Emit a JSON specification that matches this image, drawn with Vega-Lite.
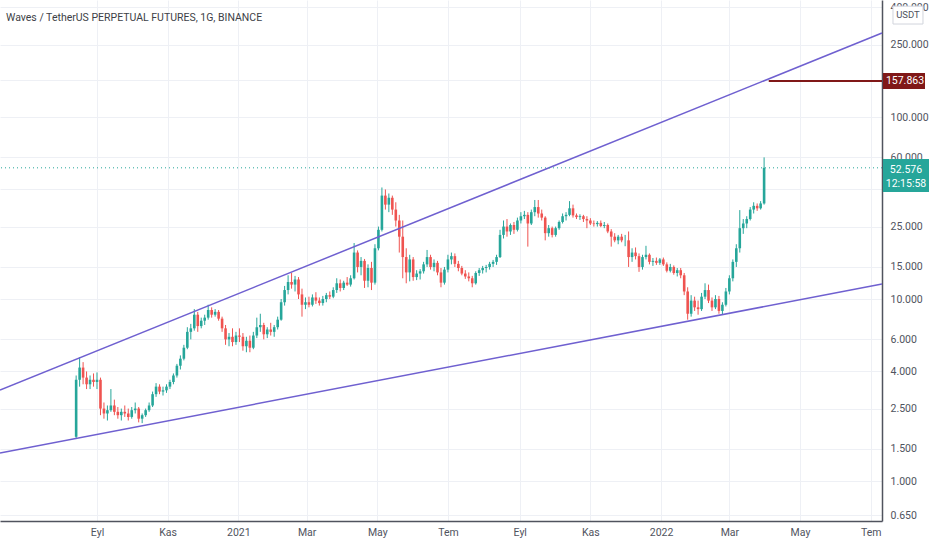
{
"$schema": "https://vega.github.io/schema/vega-lite/v6.json",
"width": 882,
"height": 521,
"autosize": {"type": "none"},
"padding": {"left": 0, "top": 0, "right": 50, "bottom": 29},
"background": "#ffffff",
"view": {"stroke": null},
"config": {"font": "Roboto", "text": {"font": "Roboto"}},
"title": {"text": "Waves / TetherUS PERPETUAL FUTURES, 1G, BINANCE", "anchor": "start", "frame": "group", "orient": "top", "offset": -23, "dx": 6, "fontSize": 10.5, "fontWeight": "normal", "color": "#3d3f47", "font": "Roboto"},
"datasets": {
"candles": [
{"d":"2020-08-14","o":1.75,"h":3.8,"l":1.7,"c":3.6},
{"d":"2020-08-17","o":3.6,"h":4.8,"l":3.3,"c":4.2},
{"d":"2020-08-20","o":4.2,"h":4.5,"l":3.4,"c":3.7},
{"d":"2020-08-23","o":3.7,"h":4.0,"l":3.2,"c":3.4},
{"d":"2020-08-26","o":3.4,"h":3.8,"l":3.2,"c":3.6},
{"d":"2020-08-29","o":3.6,"h":3.9,"l":3.3,"c":3.5},
{"d":"2020-09-01","o":3.5,"h":3.95,"l":3.2,"c":3.6},
{"d":"2020-09-04","o":3.6,"h":3.7,"l":2.3,"c":2.5},
{"d":"2020-09-07","o":2.5,"h":2.7,"l":2.2,"c":2.35},
{"d":"2020-09-10","o":2.35,"h":2.6,"l":2.15,"c":2.45},
{"d":"2020-09-13","o":2.45,"h":3.2,"l":2.4,"c":2.6},
{"d":"2020-09-16","o":2.6,"h":2.8,"l":2.3,"c":2.4},
{"d":"2020-09-19","o":2.4,"h":2.55,"l":2.2,"c":2.3},
{"d":"2020-09-22","o":2.3,"h":2.5,"l":2.15,"c":2.4},
{"d":"2020-09-25","o":2.4,"h":2.6,"l":2.25,"c":2.35},
{"d":"2020-09-28","o":2.35,"h":2.5,"l":2.15,"c":2.25},
{"d":"2020-10-01","o":2.25,"h":2.55,"l":2.2,"c":2.45},
{"d":"2020-10-04","o":2.45,"h":2.7,"l":2.35,"c":2.5},
{"d":"2020-10-07","o":2.5,"h":2.55,"l":2.1,"c":2.2},
{"d":"2020-10-10","o":2.2,"h":2.35,"l":2.08,"c":2.3},
{"d":"2020-10-13","o":2.3,"h":2.5,"l":2.25,"c":2.45},
{"d":"2020-10-16","o":2.45,"h":2.7,"l":2.4,"c":2.6},
{"d":"2020-10-19","o":2.6,"h":3.1,"l":2.55,"c":3.0},
{"d":"2020-10-22","o":3.0,"h":3.45,"l":2.9,"c":3.3},
{"d":"2020-10-25","o":3.3,"h":3.4,"l":3.0,"c":3.1},
{"d":"2020-10-28","o":3.1,"h":3.3,"l":2.95,"c":3.15},
{"d":"2020-10-31","o":3.15,"h":3.4,"l":3.05,"c":3.3},
{"d":"2020-11-03","o":3.3,"h":3.6,"l":3.2,"c":3.5},
{"d":"2020-11-06","o":3.5,"h":3.9,"l":3.4,"c":3.8},
{"d":"2020-11-09","o":3.8,"h":4.4,"l":3.7,"c":4.3},
{"d":"2020-11-12","o":4.3,"h":4.9,"l":4.1,"c":4.7},
{"d":"2020-11-15","o":4.7,"h":5.6,"l":4.6,"c":5.4},
{"d":"2020-11-18","o":5.4,"h":7.0,"l":5.3,"c":6.6},
{"d":"2020-11-21","o":6.6,"h":7.3,"l":6.0,"c":6.9},
{"d":"2020-11-24","o":6.9,"h":8.8,"l":6.7,"c":8.2},
{"d":"2020-11-27","o":8.2,"h":8.5,"l":6.6,"c":7.1},
{"d":"2020-11-30","o":7.1,"h":7.9,"l":6.9,"c":7.6},
{"d":"2020-12-03","o":7.6,"h":8.2,"l":7.2,"c":7.9},
{"d":"2020-12-06","o":7.9,"h":9.3,"l":7.7,"c":8.7},
{"d":"2020-12-09","o":8.7,"h":9.0,"l":7.9,"c":8.2},
{"d":"2020-12-12","o":8.2,"h":8.8,"l":8.0,"c":8.5},
{"d":"2020-12-15","o":8.5,"h":8.7,"l":7.6,"c":7.8},
{"d":"2020-12-18","o":7.8,"h":8.0,"l":6.6,"c":6.9},
{"d":"2020-12-21","o":6.9,"h":7.2,"l":5.6,"c":6.0},
{"d":"2020-12-24","o":6.0,"h":6.5,"l":5.5,"c":6.2},
{"d":"2020-12-27","o":6.2,"h":6.9,"l":5.5,"c":5.8},
{"d":"2020-12-30","o":5.8,"h":6.6,"l":5.6,"c":6.3},
{"d":"2021-01-02","o":6.3,"h":6.9,"l":5.8,"c":6.2},
{"d":"2021-01-05","o":6.2,"h":6.5,"l":5.2,"c":5.5},
{"d":"2021-01-08","o":5.5,"h":6.2,"l":5.1,"c":5.9},
{"d":"2021-01-11","o":5.9,"h":6.3,"l":5.1,"c":5.4},
{"d":"2021-01-14","o":5.4,"h":6.6,"l":5.3,"c":6.3},
{"d":"2021-01-17","o":6.3,"h":7.9,"l":6.1,"c":7.0},
{"d":"2021-01-20","o":7.0,"h":8.3,"l":6.6,"c":7.2},
{"d":"2021-01-23","o":7.2,"h":7.4,"l":6.0,"c":6.4},
{"d":"2021-01-26","o":6.4,"h":7.0,"l":6.1,"c":6.8},
{"d":"2021-01-29","o":6.8,"h":7.4,"l":6.3,"c":6.6},
{"d":"2021-02-01","o":6.6,"h":7.2,"l":6.2,"c":7.0},
{"d":"2021-02-04","o":7.0,"h":8.0,"l":6.8,"c":7.7},
{"d":"2021-02-07","o":7.7,"h":10.0,"l":7.6,"c":9.6},
{"d":"2021-02-10","o":9.6,"h":11.8,"l":9.2,"c":11.2},
{"d":"2021-02-13","o":11.2,"h":13.5,"l":10.6,"c":12.4},
{"d":"2021-02-16","o":12.4,"h":13.9,"l":11.4,"c":12.0},
{"d":"2021-02-19","o":12.0,"h":13.4,"l":11.0,"c":12.8},
{"d":"2021-02-22","o":12.8,"h":13.2,"l":10.0,"c":10.6},
{"d":"2021-02-25","o":10.6,"h":11.4,"l":8.0,"c":9.3},
{"d":"2021-02-28","o":9.3,"h":10.2,"l":8.8,"c":9.6},
{"d":"2021-03-03","o":9.6,"h":10.3,"l":9.0,"c":9.3},
{"d":"2021-03-06","o":9.3,"h":10.6,"l":9.1,"c":10.2},
{"d":"2021-03-09","o":10.2,"h":10.9,"l":9.4,"c":9.8},
{"d":"2021-03-12","o":9.8,"h":10.2,"l":9.2,"c":9.5},
{"d":"2021-03-15","o":9.5,"h":10.4,"l":9.2,"c":10.0},
{"d":"2021-03-18","o":10.0,"h":10.8,"l":9.6,"c":10.5},
{"d":"2021-03-21","o":10.5,"h":11.0,"l":10.0,"c":10.3},
{"d":"2021-03-24","o":10.3,"h":11.6,"l":10.1,"c":11.2},
{"d":"2021-03-27","o":11.2,"h":13.0,"l":10.8,"c":12.2},
{"d":"2021-03-30","o":12.2,"h":12.8,"l":11.0,"c":11.5},
{"d":"2021-04-02","o":11.5,"h":12.6,"l":11.2,"c":12.3},
{"d":"2021-04-05","o":12.3,"h":13.2,"l":11.8,"c":12.0},
{"d":"2021-04-08","o":12.0,"h":13.5,"l":11.7,"c":13.0},
{"d":"2021-04-11","o":13.0,"h":20.3,"l":12.8,"c":18.0},
{"d":"2021-04-14","o":18.0,"h":18.5,"l":14.0,"c":15.0},
{"d":"2021-04-17","o":15.0,"h":17.0,"l":13.5,"c":16.2},
{"d":"2021-04-20","o":16.2,"h":16.6,"l":11.5,"c":12.6},
{"d":"2021-04-23","o":12.6,"h":15.5,"l":11.6,"c":14.8},
{"d":"2021-04-26","o":14.8,"h":16.0,"l":11.2,"c":12.3},
{"d":"2021-04-29","o":12.3,"h":20.0,"l":12.0,"c":19.0},
{"d":"2021-05-02","o":19.0,"h":25.0,"l":18.5,"c":24.0},
{"d":"2021-05-05","o":24.0,"h":41.0,"l":23.5,"c":37.0},
{"d":"2021-05-08","o":37.0,"h":40.0,"l":31.0,"c":33.0},
{"d":"2021-05-11","o":33.0,"h":38.0,"l":30.0,"c":36.0},
{"d":"2021-05-14","o":36.0,"h":37.0,"l":29.0,"c":31.0},
{"d":"2021-05-17","o":31.0,"h":34.0,"l":25.0,"c":27.0},
{"d":"2021-05-20","o":27.0,"h":29.0,"l":18.0,"c":22.0},
{"d":"2021-05-23","o":22.0,"h":27.0,"l":13.0,"c":17.0},
{"d":"2021-05-26","o":17.0,"h":19.0,"l":12.2,"c":14.0},
{"d":"2021-05-29","o":14.0,"h":17.5,"l":12.5,"c":16.5},
{"d":"2021-06-01","o":16.5,"h":17.0,"l":12.6,"c":13.2},
{"d":"2021-06-04","o":13.2,"h":14.4,"l":12.7,"c":13.8},
{"d":"2021-06-07","o":13.8,"h":14.6,"l":12.8,"c":14.2},
{"d":"2021-06-10","o":14.2,"h":16.0,"l":13.8,"c":15.5},
{"d":"2021-06-13","o":15.5,"h":18.6,"l":15.0,"c":17.0},
{"d":"2021-06-16","o":17.0,"h":17.5,"l":14.5,"c":15.0},
{"d":"2021-06-19","o":15.0,"h":16.5,"l":14.2,"c":15.8},
{"d":"2021-06-22","o":15.8,"h":16.2,"l":13.5,"c":14.0},
{"d":"2021-06-25","o":14.0,"h":14.8,"l":11.6,"c":12.3},
{"d":"2021-06-28","o":12.3,"h":15.0,"l":12.0,"c":14.5},
{"d":"2021-07-01","o":14.5,"h":17.5,"l":14.0,"c":16.5},
{"d":"2021-07-04","o":16.5,"h":18.0,"l":15.5,"c":17.2},
{"d":"2021-07-07","o":17.2,"h":17.8,"l":15.0,"c":15.6},
{"d":"2021-07-10","o":15.6,"h":16.2,"l":14.2,"c":14.8},
{"d":"2021-07-13","o":14.8,"h":15.2,"l":13.5,"c":13.8},
{"d":"2021-07-16","o":13.8,"h":14.4,"l":12.9,"c":13.3},
{"d":"2021-07-19","o":13.3,"h":14.0,"l":12.5,"c":13.0},
{"d":"2021-07-22","o":13.0,"h":13.4,"l":11.6,"c":12.2},
{"d":"2021-07-25","o":12.2,"h":14.2,"l":12.0,"c":13.9},
{"d":"2021-07-28","o":13.9,"h":14.8,"l":13.4,"c":14.4},
{"d":"2021-07-31","o":14.4,"h":15.2,"l":13.8,"c":14.8},
{"d":"2021-08-03","o":14.8,"h":15.4,"l":14.0,"c":15.0},
{"d":"2021-08-06","o":15.0,"h":16.0,"l":14.5,"c":15.6},
{"d":"2021-08-09","o":15.6,"h":16.4,"l":15.0,"c":16.0},
{"d":"2021-08-12","o":16.0,"h":17.5,"l":15.4,"c":17.0},
{"d":"2021-08-15","o":17.0,"h":24.0,"l":16.8,"c":22.5},
{"d":"2021-08-18","o":22.5,"h":27.0,"l":21.5,"c":25.0},
{"d":"2021-08-21","o":25.0,"h":27.5,"l":22.0,"c":23.5},
{"d":"2021-08-24","o":23.5,"h":26.0,"l":22.5,"c":25.5},
{"d":"2021-08-27","o":25.5,"h":26.5,"l":22.8,"c":24.0},
{"d":"2021-08-30","o":24.0,"h":28.0,"l":23.5,"c":27.0},
{"d":"2021-09-02","o":27.0,"h":30.0,"l":26.0,"c":28.5},
{"d":"2021-09-05","o":28.5,"h":30.5,"l":27.5,"c":29.0},
{"d":"2021-09-08","o":29.0,"h":30.0,"l":19.4,"c":26.0},
{"d":"2021-09-11","o":26.0,"h":31.0,"l":25.5,"c":30.0},
{"d":"2021-09-14","o":30.0,"h":35.0,"l":28.5,"c":32.0},
{"d":"2021-09-17","o":32.0,"h":35.0,"l":28.0,"c":29.5},
{"d":"2021-09-20","o":29.5,"h":31.0,"l":27.0,"c":28.0},
{"d":"2021-09-23","o":28.0,"h":28.5,"l":21.0,"c":23.0},
{"d":"2021-09-26","o":23.0,"h":25.5,"l":22.0,"c":24.5},
{"d":"2021-09-29","o":24.5,"h":25.0,"l":21.8,"c":22.5},
{"d":"2021-10-02","o":22.5,"h":25.0,"l":22.0,"c":24.5},
{"d":"2021-10-05","o":24.5,"h":27.0,"l":24.0,"c":26.5},
{"d":"2021-10-08","o":26.5,"h":29.5,"l":26.0,"c":28.5},
{"d":"2021-10-11","o":28.5,"h":30.0,"l":27.0,"c":29.0},
{"d":"2021-10-14","o":29.0,"h":34.5,"l":28.5,"c":31.5},
{"d":"2021-10-17","o":31.5,"h":33.0,"l":28.0,"c":28.8},
{"d":"2021-10-20","o":28.8,"h":29.5,"l":27.5,"c":28.2},
{"d":"2021-10-23","o":28.2,"h":29.2,"l":27.2,"c":28.5},
{"d":"2021-10-26","o":28.5,"h":29.0,"l":26.5,"c":27.5},
{"d":"2021-10-29","o":27.5,"h":28.5,"l":24.5,"c":27.0},
{"d":"2021-11-01","o":27.0,"h":27.8,"l":25.5,"c":26.0},
{"d":"2021-11-04","o":26.0,"h":27.0,"l":25.0,"c":25.8},
{"d":"2021-11-07","o":25.8,"h":26.8,"l":25.0,"c":26.2},
{"d":"2021-11-10","o":26.2,"h":27.0,"l":24.8,"c":25.2},
{"d":"2021-11-13","o":25.2,"h":26.5,"l":24.5,"c":25.5},
{"d":"2021-11-16","o":25.5,"h":26.0,"l":23.0,"c":23.5},
{"d":"2021-11-19","o":23.5,"h":24.2,"l":19.4,"c":22.0},
{"d":"2021-11-22","o":22.0,"h":23.0,"l":20.5,"c":21.0},
{"d":"2021-11-25","o":21.0,"h":22.5,"l":20.0,"c":22.0},
{"d":"2021-11-28","o":22.0,"h":22.8,"l":20.5,"c":21.0},
{"d":"2021-12-01","o":21.0,"h":22.5,"l":19.5,"c":21.0},
{"d":"2021-12-04","o":21.0,"h":23.5,"l":15.0,"c":17.0},
{"d":"2021-12-07","o":17.0,"h":19.0,"l":16.0,"c":18.0},
{"d":"2021-12-10","o":18.0,"h":19.2,"l":16.5,"c":17.2},
{"d":"2021-12-13","o":17.2,"h":17.8,"l":14.1,"c":15.0},
{"d":"2021-12-16","o":15.0,"h":17.5,"l":14.5,"c":17.0},
{"d":"2021-12-19","o":17.0,"h":19.6,"l":16.5,"c":17.5},
{"d":"2021-12-22","o":17.5,"h":17.8,"l":15.5,"c":16.0},
{"d":"2021-12-25","o":16.0,"h":16.8,"l":15.2,"c":16.2},
{"d":"2021-12-28","o":16.2,"h":16.9,"l":15.4,"c":15.8},
{"d":"2021-12-31","o":15.8,"h":16.8,"l":15.4,"c":16.5},
{"d":"2022-01-03","o":16.5,"h":16.9,"l":15.2,"c":15.5},
{"d":"2022-01-06","o":15.5,"h":15.9,"l":14.0,"c":14.3},
{"d":"2022-01-09","o":14.3,"h":15.6,"l":14.0,"c":15.0},
{"d":"2022-01-12","o":15.0,"h":15.3,"l":13.6,"c":13.9},
{"d":"2022-01-15","o":13.9,"h":14.8,"l":13.3,"c":14.4},
{"d":"2022-01-18","o":14.4,"h":14.8,"l":13.0,"c":13.5},
{"d":"2022-01-21","o":13.5,"h":13.9,"l":10.5,"c":11.0},
{"d":"2022-01-24","o":11.0,"h":11.6,"l":7.7,"c":8.3},
{"d":"2022-01-27","o":8.3,"h":10.5,"l":8.0,"c":9.8},
{"d":"2022-01-30","o":9.8,"h":10.3,"l":8.6,"c":9.0},
{"d":"2022-02-02","o":9.0,"h":9.8,"l":8.2,"c":8.8},
{"d":"2022-02-05","o":8.8,"h":10.8,"l":8.6,"c":10.3},
{"d":"2022-02-08","o":10.3,"h":12.2,"l":10.0,"c":11.2},
{"d":"2022-02-11","o":11.2,"h":12.0,"l":9.5,"c":9.8},
{"d":"2022-02-14","o":9.8,"h":10.2,"l":8.6,"c":9.0},
{"d":"2022-02-17","o":9.0,"h":10.5,"l":8.8,"c":10.0},
{"d":"2022-02-20","o":10.0,"h":10.4,"l":8.3,"c":8.6},
{"d":"2022-02-23","o":8.6,"h":9.6,"l":8.2,"c":9.3},
{"d":"2022-02-26","o":9.3,"h":11.5,"l":9.1,"c":11.0},
{"d":"2022-03-01","o":11.0,"h":13.5,"l":10.6,"c":13.0},
{"d":"2022-03-04","o":13.0,"h":16.5,"l":12.5,"c":16.0},
{"d":"2022-03-07","o":16.0,"h":20.0,"l":15.0,"c":19.0},
{"d":"2022-03-10","o":19.0,"h":30.8,"l":18.0,"c":24.5},
{"d":"2022-03-13","o":24.5,"h":27.5,"l":22.8,"c":26.0},
{"d":"2022-03-16","o":26.0,"h":28.5,"l":24.5,"c":27.5},
{"d":"2022-03-19","o":27.5,"h":32.0,"l":27.0,"c":31.0},
{"d":"2022-03-22","o":31.0,"h":34.0,"l":29.5,"c":32.5},
{"d":"2022-03-25","o":32.5,"h":33.5,"l":30.5,"c":31.5},
{"d":"2022-03-28","o":31.5,"h":34.5,"l":31.0,"c":33.5},
{"d":"2022-03-31","o":33.5,"h":60.0,"l":33.0,"c":52.576}
],
"trend": [
{"g":"upper","d":"2020-06-09T06:00:00Z","p":3.16},
{"g":"upper","d":"2022-07-10T19:00:00Z","p":289.3},
{"g":"lower","d":"2020-06-09T06:00:00Z","p":1.425},
{"g":"lower","d":"2022-07-10T19:00:00Z","p":12.09}
],
"levels": [
{"d0":"2022-04-04","d1":"2022-07-10T19:00:00Z","p":157.863}
],
"labels": [
{"kind":"level","p":157.863,"t":"157.863"},
{"kind":"last","p":52.576,"t":"52.576"},
{"kind":"unit","p":363,"t":"USDT"}
]
},
"layer": [
{
"data": {"name": "candles"},
"mark": {"type": "rule", "strokeWidth": 1},
"encoding": {
"x": {"field": "d", "type": "temporal",
 "scale": {"type": "utc", "domain": [{"year":2020,"month":6,"date":9,"hours":6,"utc":true},{"year":2022,"month":7,"date":10,"hours":19,"utc":true}], "nice": false, "padding": 0},
 "axis": {"orient": "bottom", "title": null, "grid": true, "gridColor": "#eef0f5", "ticks": false, "domainColor": "#50535e", "domainWidth": 1.5, "labelPadding": 6, "labelFontSize": 10.5, "labelColor": "#50535e", "labelFlush": false, "labelOverlap": false,
  "values": [{"year":2020,"month":9,"date":1,"utc":true},{"year":2020,"month":11,"date":1,"utc":true},{"year":2021,"month":1,"date":1,"utc":true},{"year":2021,"month":3,"date":1,"utc":true},{"year":2021,"month":5,"date":1,"utc":true},{"year":2021,"month":7,"date":1,"utc":true},{"year":2021,"month":9,"date":1,"utc":true},{"year":2021,"month":11,"date":1,"utc":true},{"year":2022,"month":1,"date":1,"utc":true},{"year":2022,"month":3,"date":1,"utc":true},{"year":2022,"month":5,"date":1,"utc":true},{"year":2022,"month":7,"date":1,"utc":true}],
  "labelExpr": "utcFormat(datum.value,'%m')=='01' ? utcFormat(datum.value,'%Y') : utcFormat(datum.value,'%m')=='03' ? 'Mar' : utcFormat(datum.value,'%m')=='05' ? 'May' : utcFormat(datum.value,'%m')=='07' ? 'Tem' : utcFormat(datum.value,'%m')=='09' ? 'Eyl' : 'Kas'"}},
"y": {"field": "l", "type": "quantitative",
 "scale": {"type": "log", "domain": [0.603, 439.4], "nice": false},
 "axis": {"orient": "right", "title": null, "grid": true, "gridColor": "#eef0f5", "ticks": false, "domainColor": "#50535e", "domainWidth": 1.5, "labelPadding": 8, "labelFontSize": 10.5, "labelColor": "#50535e", "labelFlush": false, "labelOverlap": false, "labelBound": false, "format": ".3f",
  "labelExpr": "datum.value == 160 || datum.value == 40 ? '' : datum.label",
  "values": [0.65, 1, 1.5, 2.5, 4, 6, 10, 15, 25, 40, 60, 100, 160, 250, 400]}},
"y2": {"field": "h"},
"color": {"condition": {"test": "datum.c >= datum.o", "value": "#26a69a"}, "value": "#ef5350"}
}
},
{
"data": {"name": "candles"},
"mark": {"type": "bar"},
"encoding": {
"x": {"field": "d", "type": "temporal"},
"y": {"field": "o", "type": "quantitative"},
"y2": {"field": "c"},
"size": {"value": 2.6},
"color": {"condition": {"test": "datum.c >= datum.o", "value": "#26a69a"}, "value": "#ef5350"}
}
},
{
"data": {"name": "trend"},
"mark": {"type": "line", "color": "#6f60d0", "strokeWidth": 1.5},
"encoding": {
"x": {"field": "d", "type": "temporal"},
"y": {"field": "p", "type": "quantitative"},
"detail": {"field": "g"}
}
},
{
"data": {"name": "labels"},
"transform": [{"filter": "datum.kind == 'last'"}],
"mark": {"type": "rule", "color": "#26a69a", "strokeWidth": 1, "strokeDash": [1, 3]},
"encoding": {
"y": {"field": "p", "type": "quantitative"}
}
},
{
"data": {"name": "levels"},
"mark": {"type": "rule", "color": "#801818", "strokeWidth": 2},
"encoding": {
"x": {"field": "d0", "type": "temporal"},
"x2": {"field": "d1"},
"y": {"field": "p", "type": "quantitative"}
}
},
{
"data": {"name": "labels"},
"transform": [{"filter": "datum.kind == 'level'"}],
"mark": {"type": "point", "filled": true, "opacity": 1, "color": "#801818", "strokeWidth": 0, "size": 8836, "shape": "M0.02,-0.17H0.915V0.17H0.02Z"},
"encoding": {
"x": {"datum": {"year":2022,"month":7,"date":10,"hours":19,"utc":true}, "type": "temporal"},
"y": {"field": "p", "type": "quantitative"}
}
},
{
"data": {"name": "labels"},
"transform": [{"filter": "datum.kind == 'last'"}],
"mark": {"type": "point", "filled": true, "opacity": 1, "color": "#26a69a", "strokeWidth": 0, "size": 8836, "shape": "M0.02,-0.19H1V0.515H0.02Z"},
"encoding": {
"x": {"datum": {"year":2022,"month":7,"date":10,"hours":19,"utc":true}, "type": "temporal"},
"y": {"field": "p", "type": "quantitative"}
}
},
{
"data": {"name": "labels"},
"transform": [{"filter": "datum.kind == 'unit'"}],
"mark": {"type": "point", "filled": true, "opacity": 1, "fill": "#ffffff", "stroke": "#d1d4dc", "strokeWidth": 1, "size": 8836, "shape": "M0.234,-0.19H0.872V0.19H0.234Z"},
"encoding": {
"x": {"datum": {"year":2022,"month":7,"date":10,"hours":19,"utc":true}, "type": "temporal"},
"y": {"field": "p", "type": "quantitative"}
}
},
{
"data": {"name": "labels"},
"transform": [{"filter": "datum.kind == 'level'"}],
"mark": {"type": "text", "color": "#ffffff", "fontSize": 10.5, "align": "center", "baseline": "middle", "dx": 23},
"encoding": {
"x": {"datum": {"year":2022,"month":7,"date":10,"hours":19,"utc":true}, "type": "temporal"},
"y": {"field": "p", "type": "quantitative"},
"text": {"field": "t"}
}
},
{
"data": {"name": "labels"},
"transform": [{"filter": "datum.kind == 'last'"}],
"mark": {"type": "text", "color": "#ffffff", "fontSize": 10.5, "align": "center", "baseline": "middle", "dx": 24, "dy": 2},
"encoding": {
"x": {"datum": {"year":2022,"month":7,"date":10,"hours":19,"utc":true}, "type": "temporal"},
"y": {"field": "p", "type": "quantitative"},
"text": {"field": "t"}
}
},
{
"data": {"name": "labels"},
"transform": [{"filter": "datum.kind == 'last'"}],
"mark": {"type": "text", "color": "#ffffff", "fontSize": 10.5, "align": "center", "baseline": "middle", "dx": 24, "dy": 16, "text": "12:15:58"},
"encoding": {
"x": {"datum": {"year":2022,"month":7,"date":10,"hours":19,"utc":true}, "type": "temporal"},
"y": {"field": "p", "type": "quantitative"}
}
},
{
"data": {"name": "labels"},
"transform": [{"filter": "datum.kind == 'unit'"}],
"mark": {"type": "text", "color": "#50535e", "fontSize": 9.5, "align": "center", "baseline": "middle", "dx": 26},
"encoding": {
"x": {"datum": {"year":2022,"month":7,"date":10,"hours":19,"utc":true}, "type": "temporal"},
"y": {"field": "p", "type": "quantitative"},
"text": {"field": "t"}
}
}
]
}
